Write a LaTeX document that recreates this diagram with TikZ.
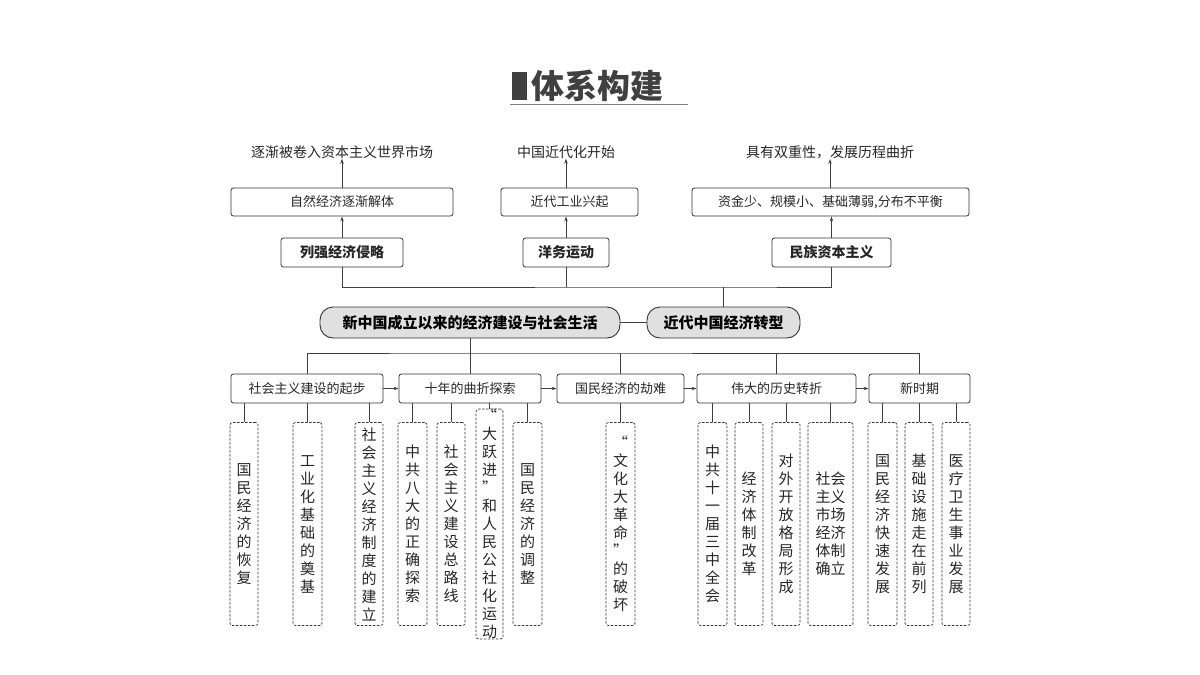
\documentclass[tikz,border=0pt]{standalone}
\usepackage{fontspec}
\setmainfont{Noto Sans CJK SC}
\usetikzlibrary{arrows.meta}
\begin{document}
\begin{tikzpicture}[x=1pt,y=-1pt,
  ln/.style={draw=black!75,line width=0.8pt},
  ar/.style={ln,-{Stealth[length=5pt,width=3.5pt]}},
  box/.style={draw=black!80,line width=0.8pt,rounded corners=2.5pt,inner sep=0pt,font=\fontsize{13}{15}\selectfont,text=black!85},
  bbox/.style={box,font=\fontsize{14}{16}\selectfont\bfseries},
  pill/.style={draw=black!80,line width=0.9pt,fill=black!12,rounded corners=13pt,inner sep=0pt,minimum height=31pt,font=\fontsize{15}{17}\selectfont\bfseries},
  dbox/.style={draw=black!80,line width=0.7pt,dashed,dash pattern=on 2.5pt off 1.5pt,rounded corners=2.5pt,inner sep=0pt,minimum height=203pt,align=center,font=\fontsize{15}{18}\selectfont,text=black!85},
  lab/.style={inner sep=0pt,font=\fontsize{14}{16}\selectfont,text=black!85}]
\useasboundingbox (0,0) rectangle (1200,675);
% title
\fill[black!75] (512,72) rectangle (527,100);
\node[inner sep=0pt,anchor=west,font=\fontsize{33}{36}\selectfont\bfseries,text=black!75] (title) at (531,86) {体系构建};
\draw[black!50,line width=0.8pt] (510,104) -- (688,104);
% top labels
\node[lab] (t1) at (342,152) {逐渐被卷入资本主义世界市场};
\node[lab] (t2) at (566,152) {中国近代化开始};
\node[lab] (t3) at (830,152) {具有双重性，发展历程曲折};
% row 2
\node[box,minimum width=222pt,minimum height=28pt] (m1) at (342,202) {自然经济逐渐解体};
\node[box,minimum width=137pt,minimum height=28pt] (m2) at (569.5,202) {近代工业兴起};
\node[box,minimum width=277pt,minimum height=28pt] (m3) at (830.5,202) {资金少、规模小、基础薄弱,分布不平衡};
% row 3
\node[bbox,minimum width=122pt,minimum height=29pt] (b1) at (342,252.5) {列强经济侵略};
\node[bbox,minimum width=86pt,minimum height=29pt] (b2) at (566,252.5) {洋务运动};
\node[bbox,minimum width=119pt,minimum height=29pt] (b3) at (831.5,252.5) {民族资本主义};
\draw[ar] (b1.north) -- (m1.south);
\draw[ar] (b2.north) -- (b2.north|-m2.south);
\draw[ar] (b3.north) -- (b3.north|-m3.south);
\draw[ar] (m1.north) -- (t1.south);
\draw[ar] (m2.north-|t2) -- (t2.south);
\draw[ar] (m3.north-|t3) -- (t3.south);
% central
\node[pill,minimum width=300pt] (c1) at (470,322.5) {新中国成立以来的经济建设与社会生活};
\node[pill,minimum width=153pt] (c2) at (723.5,322.5) {近代中国经济转型};
\draw[ln] (c1.east) -- (c2.west);
\coordinate (j1) at (c2.north|-0,287);
\draw[ln] (b1.south) |- (j1) -| (b3.south);
\draw[ln] (b2.south) -- (b2.south|-j1);
\draw[ln] (j1) -- (c2.north);
% periods
\node[box,minimum width=152pt,minimum height=29pt] (r1) at (307,388.5) {社会主义建设的起步};
\node[box,minimum width=142pt,minimum height=29pt] (r2) at (470,388.5) {十年的曲折探索};
\node[box,minimum width=127pt,minimum height=29pt] (r3) at (620.5,388.5) {国民经济的劫难};
\node[box,minimum width=159pt,minimum height=29pt] (r4) at (776.5,388.5) {伟大的历史转折};
\node[box,minimum width=101pt,minimum height=29pt] (r5) at (919.5,388.5) {新时期};
\coordinate (j2) at (c1.south|-0,353);
\draw[ln] (c1.south) -- (j2);
\draw[ln] (r1.north) |- (j2) -| (r5.north);
\draw[ln] (r2.north) -- (r2.north|-j2);
\draw[ln] (r3.north) -- (r3.north|-j2);
\draw[ln] (r4.north) -- (r4.north|-j2);
\draw[ar] (r1.east) -- (r2.west);
\draw[ar] (r2.east) -- (r3.west);
\draw[ar] (r3.east) -- (r4.west);
\draw[ar] (r4.east) -- (r5.west);
% dashed boxes
\node[dbox,minimum width=28pt] (d1) at (244,524) {国\\民\\经\\济\\的\\恢\\复};
\node[dbox,minimum width=29pt] (d2) at (307.5,524) {工\\业\\化\\基\\础\\的\\奠\\基};
\node[dbox,minimum width=28pt] (d3) at (369,524) {社\\会\\主\\义\\经\\济\\制\\度\\的\\建\\立};
\node[dbox,minimum width=29pt] (d4) at (412.5,524) {中\\共\\八\\大\\的\\正\\确\\探\\索};
\node[dbox,minimum width=28pt] (d5) at (451,524) {社\\会\\主\\义\\建\\设\\总\\路\\线};
\node[dbox,minimum width=27pt] (d6) at (489.5,524) {“\\大\\跃\\进\\”\\和\\人\\民\\公\\社\\化\\运\\动};
\node[dbox,minimum width=29pt] (d7) at (527.5,524) {国\\民\\经\\济\\的\\调\\整};
\node[dbox,minimum width=29pt] (d8) at (620.5,524) {“\\文\\化\\大\\革\\命\\”\\的\\破\\坏};
\node[dbox,minimum width=29pt] (d9) at (712.5,524) {中\\共\\十\\一\\届\\三\\中\\全\\会};
\node[dbox,minimum width=28pt] (d10) at (749,524) {经\\济\\体\\制\\改\\革};
\node[dbox,minimum width=28pt] (d11) at (786,524) {对\\外\\开\\放\\格\\局\\形\\成};
\node[dbox,minimum width=45pt] (d12) at (830.5,524) {社会\\主义\\市场\\经济\\体制\\确立};
\node[dbox,minimum width=29pt] (d13) at (882.5,524) {国\\民\\经\\济\\快\\速\\发\\展};
\node[dbox,minimum width=28pt] (d14) at (919,524) {基\\础\\设\\施\\走\\在\\前\\列};
\node[dbox,minimum width=28pt] (d15) at (956,524) {医\\疗\\卫\\生\\事\\业\\发\\展};
\foreach \d/\r in {d1/r1,d2/r1,d3/r1,d4/r2,d5/r2,d6/r2,d7/r2,d8/r3,d9/r4,d10/r4,d11/r4,d12/r4,d13/r5,d14/r5,d15/r5}
  \draw[ln] (\d.north) -- (\d.north|-\r.south);
\end{tikzpicture}
\end{document}
